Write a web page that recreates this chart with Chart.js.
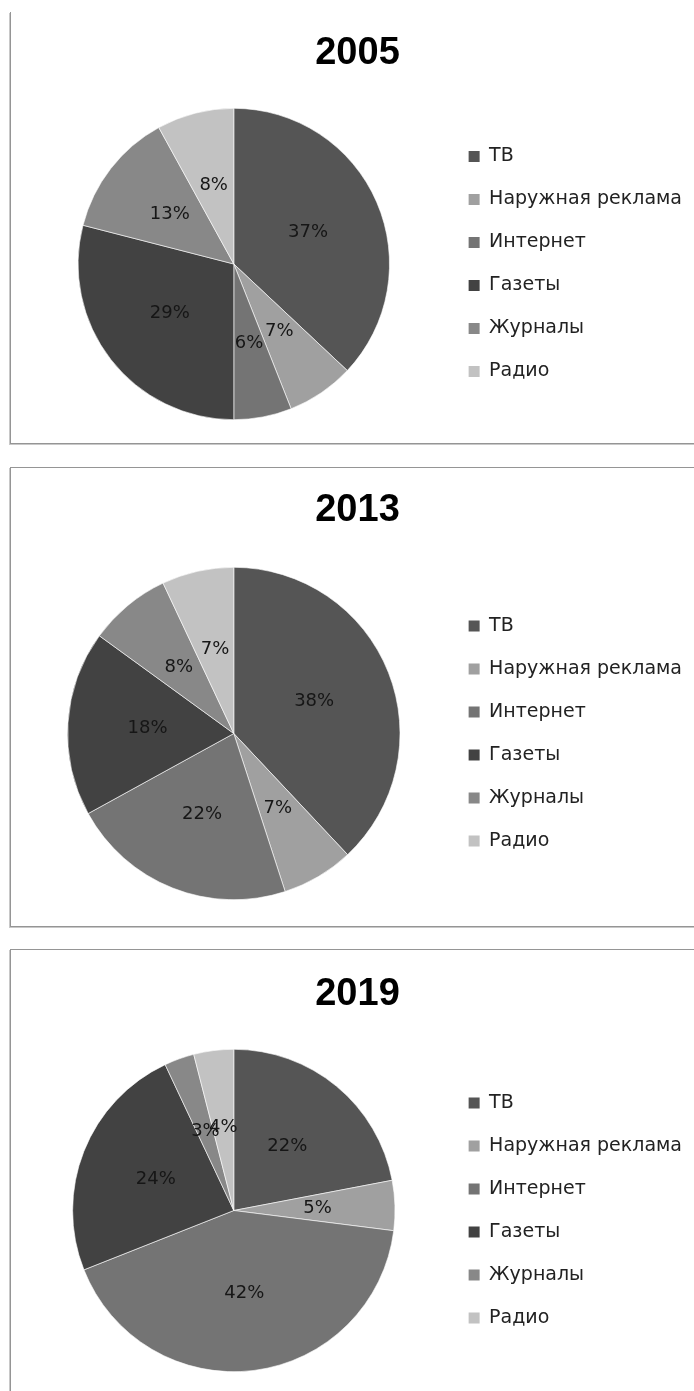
<!DOCTYPE html>
<html lang="ru">
<head>
<meta charset="utf-8">
<script src="https://cdn.jsdelivr.net/npm/chart.js@4.4.0/dist/chart.umd.min.js"></script>
<style>
html, body { margin: 0; padding: 0; background: #fff; width: 694px; height: 1391px; overflow: hidden; }
.box { position: absolute; left: 10px; width: 720px; border: 1px solid #959595; box-shadow: -1px 1px 0 #c8c8c8; background: #fff; }
.box canvas { display: block; }
</style>
</head>
<body>
<div class="box" style="top:12px; height:431px; border-top:none;"><canvas id="c2005"></canvas></div>
<div class="box" style="top:467px; height:458px;"><canvas id="c2013"></canvas></div>
<div class="box" style="top:949px; height:460px;"><canvas id="c2019"></canvas></div>
<script>
const categories = ['ТВ', 'Наружная реклама', 'Интернет', 'Газеты', 'Журналы', 'Радио'];
const years = ['2005', '2013', '2019'];
const share2005 = [37, 7, 6, 29, 13, 8];
const share2013 = [38, 7, 22, 18, 8, 7];
const share2019 = [22, 5, 42, 24, 3, 4];
const sliceColors = ['#555555', '#a0a0a0', '#747474', '#424242', '#888888', '#c2c2c2'];

// per-chart placement inside its frame
const frames = [
    { id: 'c2005', height: 431, titleTop: 18.7, titleBottom: 31.7, bottom: 23 },
    { id: 'c2013', height: 458, titleTop: 20.2, titleBottom: 33.2, bottom: 26 },
    { id: 'c2019', height: 450, titleTop: 22.2, titleBottom: 31.2, bottom: 28 }
];
const allShares = [share2005, share2013, share2019];

// percent labels inside the slices
const sliceLabels = {
    id: 'sliceLabels',
    afterDatasetsDraw(chart) {
        const ctx = chart.ctx;
        const meta = chart.getDatasetMeta(0);
        const values = chart.data.datasets[0].data;
        const total = values.reduce((a, b) => a + b, 0);
        ctx.save();
        ctx.font = '18px "DejaVu Sans"';
        ctx.fillStyle = '#161616';
        ctx.textAlign = 'center';
        ctx.textBaseline = 'middle';
        meta.data.forEach((arc, i) => {
            const p = arc.getProps(['x', 'y', 'startAngle', 'endAngle', 'outerRadius'], true);
            const mid = (p.startAngle + p.endAngle) / 2;
            const r = p.outerRadius * 0.52;
            const txt = Math.round(values[i] / total * 100) + '%';
            ctx.fillText(txt, p.x + Math.cos(mid) * r, p.y + Math.sin(mid) * r);
        });
        ctx.restore();
    }
};

frames.forEach((f, k) => {
    const canvas = document.getElementById(f.id);
    canvas.width = 681;
    canvas.height = f.height;
    new Chart(canvas.getContext('2d'), {
        type: 'pie',
        data: {
            labels: categories,
            datasets: [{
                data: allShares[k],
                backgroundColor: sliceColors,
                borderColor: '#ffffff',
                borderWidth: 0.6
            }]
        },
        options: {
            responsive: false,
            animation: false,
            layout: {
                padding: { left: 12, right: 0, top: 0, bottom: f.bottom }
            },
            plugins: {
                title: {
                    display: true,
                    text: years[k],
                    color: '#000',
                    font: { family: 'Liberation Sans', weight: 'bold', size: 38, lineHeight: 1.2 },
                    padding: { top: f.titleTop, bottom: f.titleBottom }
                },
                legend: {
                    position: 'right',
                    fullSize: false,
                    align: 'center',
                    labels: {
                        boxWidth: 11,
                        boxHeight: 11,
                        padding: 24,
                        color: '#222',
                        font: { family: 'DejaVu Sans', size: 19 },
                        generateLabels(chart) {
                            const items = Chart.overrides.pie.plugins.legend.labels.generateLabels(chart);
                            items.forEach(it => { it.lineWidth = 0; it.strokeStyle = it.fillStyle; });
                            return items;
                        }
                    }
                },
                tooltip: { enabled: false }
            }
        },
        plugins: [sliceLabels]
    });
});
</script>
</body>
</html>
